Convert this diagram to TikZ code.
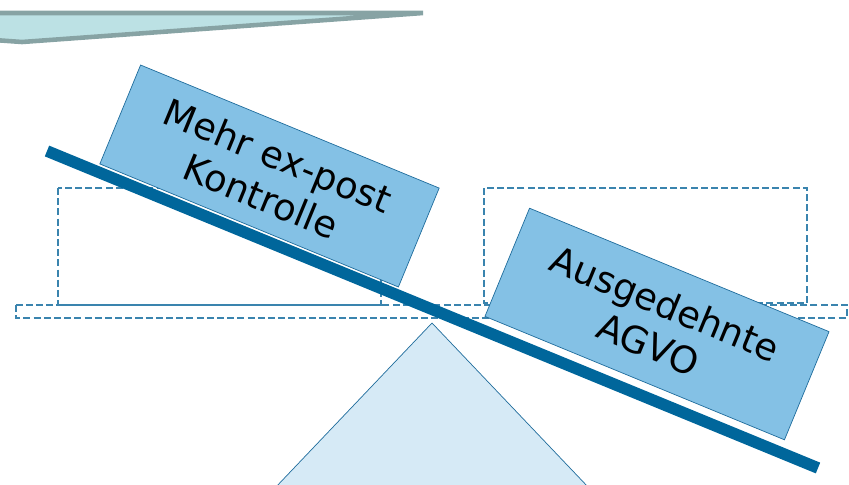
\documentclass[tikz,border=0pt]{standalone}
\usepackage{fontspec}
\setmainfont{DejaVu Sans}
\usepackage{xcolor}
\usetikzlibrary{positioning,calc}

\definecolor{barblue}{HTML}{00669B}
\definecolor{boxblue}{HTML}{84C1E5}
\definecolor{lineblue}{HTML}{1F6C9C}
\definecolor{dashblue}{HTML}{3A84AE}
\definecolor{baseblue}{HTML}{D6EAF6}
\definecolor{bannerfill}{HTML}{BCE1E4}
\definecolor{bannerline}{HTML}{87A3A4}

\begin{document}
\begin{tikzpicture}[
    x=0.02cm, y=-0.02cm,
    weight/.style={rectangle, draw=lineblue, thin, fill=boxblue, rotate=-22.4, align=center, font=\fontsize{21}{25}\selectfont, inner sep=0pt},
    slot/.style={draw=dashblue, line width=0.6pt, dash pattern=on 4pt off 1.8pt},
    beam/.style={draw=barblue, line width=6.6pt},
]
\useasboundingbox (0,0) rectangle (849,484);

% Banner at the top
\filldraw[fill=bannerfill, draw=bannerline, line width=2.6pt, line join=miter]
    (-20,13) -- (423,13) -- (22,42) -- (-20,39) -- cycle;

% Dashed placeholders
\draw[slot] (58,188) rectangle (381,305);
\draw[slot] (484,188) rectangle (807,303);
\draw[slot] (16,305) rectangle (847,318);

% Pivot
\filldraw[fill=baseblue, draw=lineblue, thin] (432,323) -- (629,530) -- (235,530) -- cycle;

% Beam
\coordinate (beamL) at (47,151);
\coordinate (beamR) at (818,468);
\draw[beam] (beamL) -- (beamR);

% Weights on the beam
\node[weight, minimum width=6.46cm, minimum height=2.14cm] (ctrl) at (269.5,176) {Mehr ex-post\\Kontrolle};
\node[weight, minimum width=6.48cm, minimum height=2.34cm] (agvo) at (657,324) {Ausgedehnte\\AGVO};

\end{tikzpicture}
\end{document}
